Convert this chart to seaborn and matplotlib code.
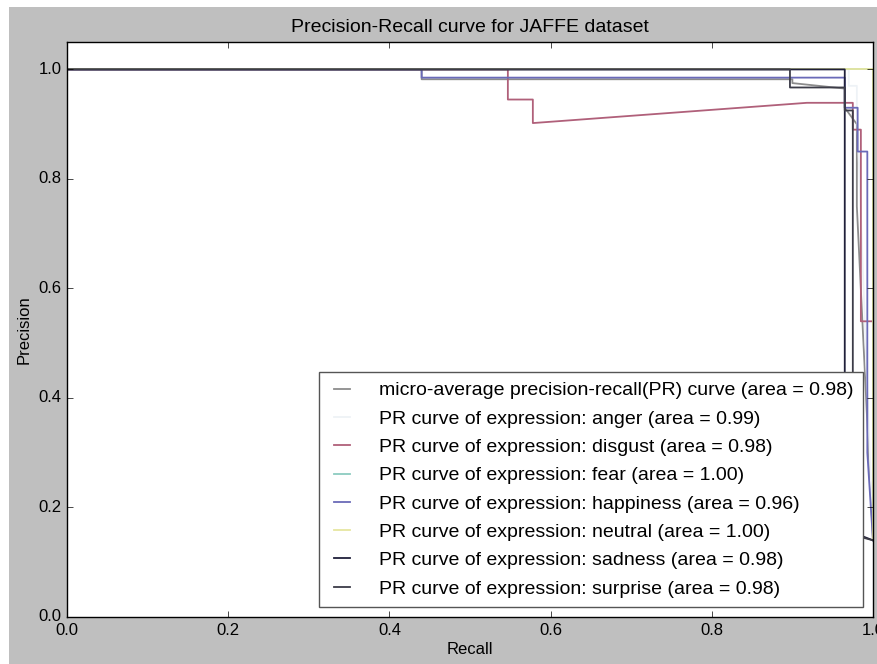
import matplotlib
matplotlib.use("Agg")
import matplotlib.pyplot as plt
from matplotlib.patches import Rectangle
import seaborn as sns
import pandas as pd

# ---- data ----
labels = [
    "micro-average precision-recall(PR) curve (area = 0.98)",
    "PR curve of expression: anger (area = 0.99)",
    "PR curve of expression: disgust (area = 0.98)",
    "PR curve of expression: fear (area = 1.00)",
    "PR curve of expression: happiness (area = 0.96)",
    "PR curve of expression: neutral (area = 1.00)",
    "PR curve of expression: sadness (area = 0.98)",
    "PR curve of expression: surprise (area = 0.98)",
]

micro_recall    = [0.0, 0.44, 0.44, 0.90, 0.90, 0.965, 0.965, 0.98, 0.98, 1.0]
micro_precision = [1.0, 1.0, 0.982, 0.982, 0.975, 0.965, 0.93, 0.90, 0.75, 0.14]

anger_recall    = [0.0, 0.97, 0.97, 0.98, 0.98, 1.0]
anger_precision = [1.0, 1.0, 0.97, 0.97, 0.93, 0.14]

disgust_recall    = [0.0, 0.547, 0.547, 0.578, 0.578, 0.918, 0.965, 0.975, 0.975, 0.985, 0.985, 1.0]
disgust_precision = [1.0, 1.0, 0.945, 0.945, 0.902, 0.939, 0.939, 0.939, 0.89, 0.89, 0.54, 0.54]

fear_recall    = [0.0, 1.0, 1.0]
fear_precision = [1.0, 1.0, 0.14]

happiness_recall    = [0.0, 0.44, 0.44, 0.965, 0.965, 0.981, 0.981, 0.993, 0.993, 1.0]
happiness_precision = [1.0, 1.0, 0.985, 0.985, 0.93, 0.93, 0.85, 0.85, 0.30, 0.14]

neutral_recall    = [0.0, 1.0, 1.0]
neutral_precision = [1.0, 1.0, 0.14]

sadness_recall    = [0.0, 0.965, 0.965, 1.0]
sadness_precision = [1.0, 1.0, 0.16, 0.14]

surprise_recall    = [0.0, 0.897, 0.897, 0.965, 0.965, 0.975, 0.975, 1.0]
surprise_precision = [1.0, 1.0, 0.967, 0.967, 0.925, 0.925, 0.15, 0.14]

colors = ["#8c8c8c", "#eef2f6", "#b0607a", "#8cccc0", "#6a6ab8", "#e6e6a0", "#20203a", "#3c3c48"]

x_ticks = [0.0, 0.2, 0.4, 0.6, 0.8, 1.0]
y_ticks = [0.0, 0.2, 0.4, 0.6, 0.8, 1.0]

series = [
    (micro_recall, micro_precision),
    (anger_recall, anger_precision),
    (disgust_recall, disgust_precision),
    (fear_recall, fear_precision),
    (happiness_recall, happiness_precision),
    (neutral_recall, neutral_precision),
    (sadness_recall, sadness_precision),
    (surprise_recall, surprise_precision),
]

# ---- style ----
plt.style.use("classic")
plt.rcParams["font.family"] = ["Liberation Sans", "DejaVu Sans"]
plt.rcParams["figure.facecolor"] = "#bfbfbf"

fig = plt.figure(figsize=(8.77, 6.64), dpi=100)
ax = fig.add_axes([0.0764, 0.0708, 0.919, 0.8659])

for (rec, prec), lab, col in zip(series, labels, colors):
    df = pd.DataFrame({"Recall": rec, "Precision": prec})
    sns.lineplot(data=df, x="Recall", y="Precision", sort=False, estimator=None,
                 color=col, linewidth=1.3, label=lab, ax=ax, legend=False)

ax.set_xlim(0.0, 1.0)
ax.set_ylim(0.0, 1.05)
ax.set_xticks(x_ticks)
ax.set_yticks(y_ticks)
ax.tick_params(labelsize=12)
ax.set_xlabel("Recall", fontsize=12, labelpad=3)
ax.set_ylabel("Precision", fontsize=12)
ax.set_title("Precision-Recall curve for JAFFE dataset", fontsize=14, y=1.005)

leg = ax.legend(loc="lower right", fontsize=14, handlelength=1.4, handletextpad=1.2,
                labelspacing=0.55, borderpad=0.5, borderaxespad=0.5, frameon=True)
leg.get_frame().set_edgecolor("#555555")

# thin white margins at top and left, as in the reference image
fig.patches.append(Rectangle((0, 0.9895), 1, 0.0105, transform=fig.transFigure,
                             facecolor="white", edgecolor="none", zorder=-1))
fig.patches.append(Rectangle((0, 0), 0.0103, 1, transform=fig.transFigure,
                             facecolor="white", edgecolor="none", zorder=-1))

fig.savefig("out.png", dpi=100, facecolor=fig.get_facecolor())
